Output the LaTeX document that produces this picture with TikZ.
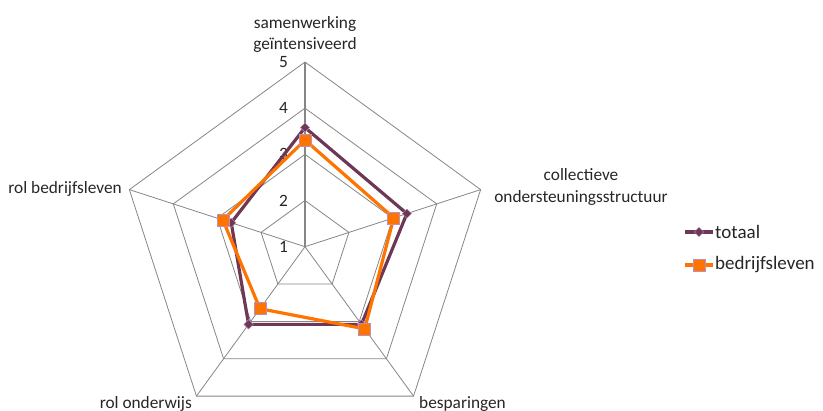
\documentclass[tikz,border=0pt]{standalone}
\usepackage{fontspec}
\setmainfont{Carlito}
\usetikzlibrary{calc,shapes.geometric}
\definecolor{gridgray}{RGB}{134,134,134}
\definecolor{tot}{RGB}{110,55,85}
\definecolor{bed}{RGB}{255,115,0}
\definecolor{mkb}{RGB}{185,145,185}
\begin{document}
\begin{tikzpicture}[x=1pt,y=-1pt,
  grid/.style={draw=gridgray,line width=0.8pt},
  spoke/.style={draw=gridgray,line width=0.8pt},
  lbl/.style={font=\fontsize{17.3}{21.5}\selectfont,inner sep=0pt,text=black!85},
  leg/.style={font=\fontsize{19}{22}\selectfont,inner sep=0pt,text=black!85},
  totline/.style={draw=tot,line width=3.2pt,line join=round},
  bedline/.style={draw=bed,line width=3.2pt,line join=round},
  totmark/.style={diamond,fill=tot,draw=mkb,line width=0.4pt,minimum size=9.5pt,inner sep=0pt},
  bedmark/.style={rectangle,fill=bed,draw=mkb,line width=0.6pt,minimum size=12pt,inner sep=0pt},
]
\useasboundingbox (0,0) rectangle (823,411);
\def\u{46.17}
\coordinate (O) at (305,246.7);
% grid rings
\foreach \k in {1,2,3,4}{
  \draw[grid] ($(O)+(-90:\k*\u)$) -- ($(O)+(-18:\k*\u)$) -- ($(O)+(54:\k*\u)$) -- ($(O)+(126:\k*\u)$) -- ($(O)+(198:\k*\u)$) -- cycle;
}
% spokes
\foreach \a/\n in {-90/A,-18/B,54/C,126/D,198/E}{
  \coordinate (\n) at ($(O)+(\a:4*\u)$);
}
\draw[spoke,line width=1.6pt] (O) -- (A);
\draw[spoke] (O) -- (B);
\draw[spoke] (O) -- (C);
\draw[spoke] (O) -- (D);
\draw[spoke] (O) -- (E);
% level labels
\foreach \k in {0,1,2,3,4}{
  \pgfmathtruncatemacro{\lv}{\k+1}
  \node[lbl,anchor=east] (lv\lv) at ($(O)+(-17,-\k*\u)$) {\lv};
}
% axis labels
\node[lbl,align=center,anchor=south] (la) at (305,53) {samenwerking\\ge\"intensiveerd};
\node[lbl,align=center] (lb) at (581,187) {collectieve\\ondersteuningsstructuur};
\node[lbl,anchor=north west] (lc) at (419,396) {besparingen};
\node[lbl,anchor=north east] (ld) at (192,396) {rol onderwijs};
\node[lbl,anchor=east] (le) at (122,189) {rol bedrijfsleven};
% data totaal
\coordinate (t1) at ($(O)+(-90:2.58*\u)$);
\coordinate (t2) at ($(O)+(-18:2.32*\u)$);
\coordinate (t3) at ($(O)+(54:2.08*\u)$);
\coordinate (t4) at ($(O)+(126:2.08*\u)$);
\coordinate (t5) at ($(O)+(198:1.68*\u)$);
\draw[totline] (t1) -- (t2) -- (t3) -- (t4) -- (t5) -- cycle;
\foreach \i in {1,...,5}{ \node[totmark] (tm\i) at (t\i) {}; }
% data bedrijfsleven
\coordinate (b1) at ($(O)+(-90:2.31*\u)$);
\coordinate (b2) at ($(O)+(-18:2.02*\u)$);
\coordinate (b3) at ($(O)+(54:2.20*\u)$);
\coordinate (b4) at ($(O)+(126:1.66*\u)$);
\coordinate (b5) at ($(O)+(198:1.87*\u)$);
\draw[bedline] (b1) -- (b2) -- (b3) -- (b4) -- (b5) -- cycle;
\foreach \i in {1,...,5}{ \node[bedmark] (bm\i) at (b\i) {}; }
% legend
\coordinate (lt1) at (685,232);
\coordinate (lt2) at (713,232);
\draw[totline] (lt1) -- (lt2);
\node[totmark] (ltm) at (699,232) {};
\node[leg,anchor=west] (ltt) at (715,232) {totaal};
\coordinate (lb1) at (685,265);
\coordinate (lb2) at (713,265);
\draw[bedline] (lb1) -- (lb2);
\node[bedmark] (lbm) at (699,265) {};
\node[leg,anchor=west] (lbt) at (715,265) {bedrijfsleven};
\end{tikzpicture}
\end{document}
